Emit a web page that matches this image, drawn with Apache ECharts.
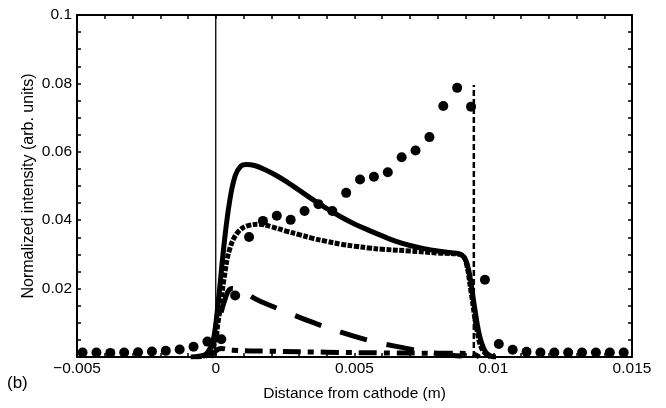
<!DOCTYPE html>
<html>
<head>
<meta charset="utf-8">
<script src="https://cdn.jsdelivr.net/npm/echarts@6/dist/echarts.min.js"></script>
<style>
    html, body { margin: 0; padding: 0; background: #fff; }
    #chart { width: 666px; height: 408px; }
</style>
</head>
<body>
<div id="chart"></div>
<script>
// measured intensity (dots)
var measured = [
    [-0.0048, 0.0013], [-0.0043, 0.0013], [-0.0038, 0.0012], [-0.0033, 0.0013],
    [-0.0028, 0.0014], [-0.0023, 0.0016], [-0.0018, 0.0018], [-0.0013, 0.0022],
    [-0.0008, 0.0030], [-0.0003, 0.0045], [0.0002, 0.0052], [0.0007, 0.0180],
    [0.0012, 0.0351], [0.0017, 0.0398], [0.0022, 0.0413], [0.0027, 0.0401],
    [0.0032, 0.0427], [0.0037, 0.0447], [0.0042, 0.0427], [0.0047, 0.0480],
    [0.0052, 0.0519], [0.0057, 0.0527], [0.0062, 0.0540], [0.0067, 0.0584],
    [0.0072, 0.0604], [0.0077, 0.0643], [0.0082, 0.0734], [0.0087, 0.0787],
    [0.0092, 0.0732], [0.0097, 0.0226], [0.0102, 0.0038], [0.0107, 0.0021],
    [0.0112, 0.0015], [0.0117, 0.0013], [0.0122, 0.0013], [0.0127, 0.0013],
    [0.0132, 0.0013], [0.0137, 0.0013], [0.0142, 0.0013], [0.0147, 0.0013]
];

// model curves
var totalCurve = [
    [-0.0009, 0], [-0.0006, 0.0002], [-0.0003, 0.0012], [-0.0001, 0.0045],
    [0.0001, 0.0170], [0.0003, 0.0330], [0.0005, 0.0455], [0.0007, 0.0530],
    [0.0009, 0.0558], [0.0011, 0.0563], [0.0014, 0.0560], [0.0018, 0.0547],
    [0.0022, 0.0530], [0.0026, 0.0510], [0.0030, 0.0488], [0.0035, 0.0460],
    [0.0040, 0.0434], [0.0045, 0.0410], [0.0050, 0.0389], [0.0055, 0.0371],
    [0.0060, 0.0354], [0.0065, 0.0338], [0.0070, 0.0326], [0.0075, 0.0317],
    [0.0080, 0.0310], [0.0085, 0.0305], [0.0088, 0.0301], [0.0090, 0.0285],
    [0.00915, 0.0240], [0.0093, 0.0160], [0.0095, 0.0065], [0.0097, 0.0018],
    [0.0099, 0.0003], [0.0101, 0]
];
var ionCurve = [
    [-0.0007, 0], [-0.0004, 0.0004], [-0.0001, 0.0030], [0.0001, 0.0110],
    [0.0003, 0.0230], [0.0005, 0.0315], [0.0008, 0.0365], [0.0012, 0.0385],
    [0.0016, 0.0388], [0.0020, 0.0381], [0.0025, 0.0369], [0.0030, 0.0358],
    [0.0035, 0.0347], [0.0040, 0.0338], [0.0045, 0.0330], [0.0050, 0.0324],
    [0.0055, 0.0319], [0.0060, 0.0315], [0.0070, 0.0310], [0.0080, 0.0304],
    [0.0088, 0.0300], [0.0090, 0.0282], [0.0092, 0.0190], [0.0094, 0.0085],
    [0.0096, 0.0022], [0.0099, 0]
];
var fastCurve = [
    [-0.0004, 0], [0, 0.0060], [0.0003, 0.0160], [0.0006, 0.0200],
    [0.0016, 0.0163], [0.0025, 0.0133], [0.0035, 0.0101], [0.0045, 0.0073],
    [0.0055, 0.0049], [0.0065, 0.0031], [0.0075, 0.0016], [0.0085, 0.0005],
    [0.0095, 0]
];
var slowCurve = [
    [-0.0002, 0], [0.0002, 0.0025], [0.0006, 0.0020], [0.0020, 0.0017],
    [0.0040, 0.0014], [0.0060, 0.0012], [0.0080, 0.0011], [0.0092, 0.0010],
    [0.0095, 0]
];

// reference lines: cathode surface and discharge edge
var cathodeLine = [[0, 0], [0, 0.1]];
var edgeLine = [[0.0093, 0], [0.0093, 0.0795]];

var xTicks = { min: -0.005, max: 0.015, interval: 0.005 };
var yTicks = { min: 0, max: 0.1, interval: 0.02 };

var font = "'Liberation Sans', Arial, sans-serif";

function fmt(v) {
    if (v === 0) return "0";
    var s = String(+v.toFixed(4));
    return s.replace("-", "\u2212");
}

function axisX(pos, showLabel) {
    return {
        type: "value",
        position: pos,
        min: xTicks.min,
        max: xTicks.max,
        interval: xTicks.interval,
        name: showLabel ? "Distance from cathode (m)" : "",
        nameLocation: "middle",
        nameGap: 29,
        nameTextStyle: { color: "#000", fontSize: 15.5, fontFamily: font },
        axisLine: { show: true, onZero: false, lineStyle: { color: "#000", width: 2 } },
        axisTick: { show: true, inside: true, length: 4, lineStyle: { color: "#000", width: 1.5 } },
        minorTick: { show: true, splitNumber: 5, length: 4, lineStyle: { color: "#000", width: 1.5 } },
        axisLabel: {
            show: showLabel,
            color: "#000",
            fontSize: 15.5,
            fontFamily: font,
            margin: 4,
            formatter: fmt,
        },
        splitLine: { show: false },
    };
}

function axisY(pos, showLabel) {
    return {
        type: "value",
        position: pos,
        min: yTicks.min,
        max: yTicks.max,
        interval: yTicks.interval,
        name: showLabel ? "Normalized intensity (arb. units)" : "",
        nameLocation: "middle",
        nameGap: 40,
        nameMoveOverlap: false,
        nameTextStyle: { color: "#000", fontSize: 16, fontFamily: font },
        axisLine: { show: true, onZero: false, lineStyle: { color: "#000", width: 2 } },
        axisTick: { show: true, inside: true, length: 4, lineStyle: { color: "#000", width: 1.5 } },
        minorTick: { show: true, splitNumber: 4, length: 4, lineStyle: { color: "#000", width: 1.5 } },
        axisLabel: {
            show: showLabel,
            color: "#000",
            fontSize: 15.5,
            fontFamily: font,
            margin: 5,
            formatter: function (v) { return v === 0 ? "" : fmt(v); },
        },
        splitLine: { show: false },
    };
}

function curve(data, width, type) {
    return {
        type: "line",
        data: data,
        showSymbol: false,
        smooth: 0.4,
        lineStyle: { color: "#000", width: width, type: type, cap: "butt", join: "round" },
    };
}

var chart = echarts.init(document.getElementById("chart"));
var option = {
    animation: false,
    backgroundColor: "#fff",
    title: {
        text: "(b)",
        left: 2,
        top: 370,
        textStyle: { color: "#000", fontSize: 17, fontWeight: "normal", fontFamily: font },
    },
    grid: { left: 77, right: 34, top: 15, bottom: 51 },
    xAxis: [axisX("bottom", true), axisX("top", false)],
    yAxis: [axisY("left", true), axisY("right", false)],
    series: [
        {
            type: "line",
            data: cathodeLine,
            showSymbol: false,
            lineStyle: { color: "#000", width: 1.3 },
        },
        {
            type: "line",
            data: edgeLine,
            showSymbol: false,
            lineStyle: { color: "#000", width: 2.5, type: [6, 3] },
        },
        curve(slowCurve, 5, [18, 7, 6, 7]),
        curve(fastCurve, 5, [28, 20]),
        curve(ionCurve, 5, [5, 1.5]),
        curve(totalCurve, 5, "solid"),
        {
            type: "scatter",
            data: measured,
            symbolSize: 10,
            itemStyle: { color: "#000", opacity: 1 },
        },
    ],
};
chart.setOption(option);
</script>
</body>
</html>
